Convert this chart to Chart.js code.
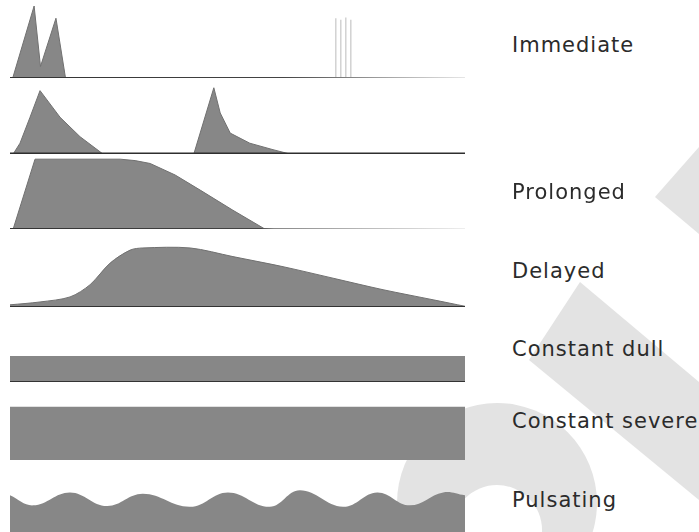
<!DOCTYPE html>
<html>
<head>
<meta charset="utf-8">
<script src="https://cdn.jsdelivr.net/npm/chart.js@4.4.1/dist/chart.umd.min.js"></script>
<style>
  html, body { margin: 0; padding: 0; background: #fff; }
  body { width: 699px; height: 532px; overflow: hidden; position: relative; }
  #mark { position: absolute; left: 0; top: 0; }
  canvas { position: absolute; }
  .lbl { position: absolute; font-family: "DejaVu Sans", sans-serif; font-size: 21px; line-height: 21px; color: #2b2b2b; white-space: nowrap; letter-spacing: 1px; }
</style>
</head>
<body>
<svg id="mark" width="699" height="532">
  <polygon points="655,197 699,147 699,234" fill="#e3e3e3"/>
  <polygon points="580,282 529,360 699,500 699,382" fill="#e3e3e3"/>
  <circle cx="497" cy="503" r="100" fill="#e3e3e3"/>
  <circle cx="497" cy="530" r="45" fill="#fff"/>
</svg>

<script>
// pain pattern profiles: time 0-100 across the row, level in common intensity units

const rowLabels = ["Immediate", "", "Prolonged", "Delayed", "Constant dull", "Constant severe", "Pulsating"];

// Immediate
const immediateTime  = [0, 0.6, 5.3, 6.7, 10.1, 12.2, 100];
const immediateLevel = [0, 0, 100, 16, 83, 0, 0];
// faint flash lines later in the row
const flashTime  = [71.6, 72.7, 73.8, 74.9];
const flashLevel = [83, 81, 84, 81];

// second row (no label)
const recurTime  = [0, 0.7, 2.2, 4.4, 6.6, 11.0, 15.4, 19.8, 20.4, 40.4, 44.8, 46.2, 48.4, 52.7, 57.8, 61.5, 100];
const recurLevel = [0, 0, 15, 51, 88, 51, 24, 3, 0, 0, 92, 57, 29, 15, 6, 0, 0];

// Prolonged
const prolongedTime  = [0, 0.7, 5.5, 24.2, 27.5, 30.8, 36.3, 41.8, 49.0, 56.0, 100];
const prolongedLevel = [0, 0, 97, 97, 95, 91, 75, 54, 26, 0, 0];

// Delayed
const delayedTime  = [0, 6.6, 13.2, 17.6, 22.0, 26.4, 29.2, 39.6, 49.0, 60.0, 71.0, 82.0, 93.0, 100];
const delayedLevel = [3, 7, 14, 31, 61, 79, 82, 82, 70, 56, 40, 24, 10, 1];

// Constant dull / Constant severe
const dullTime   = [0, 100];
const dullLevel  = [36, 36];
const severeTime  = [0, 100];
const severeLevel = [74, 74];

// Pulsating
const pulseTime  = [0, 5.1, 13.2, 21.3, 29.2, 39.6, 47.9, 57.1, 63.7, 73.2, 80.7, 87.9, 95.2, 100];
const pulseLevel = [51, 37, 55, 36, 53, 35, 55, 35, 58, 35, 55, 37, 55, 51];

// layout
const PX_PER_UNIT = 0.72;
const LEFT = 10, WIDTH = 455, PAD = 3;
const FILL = "#878787";
const EDGE = "#707070";

function pts(xs, ys) {
    return xs.map((x, i) => ({ x: x, y: ys[i] }));
}

// vertical strokes with gaps between them
function strokes(xs, ys) {
    const out = [];
    xs.forEach((x, i) => {
        if (i > 0) out.push({ x: x - 0.5, y: null });
        if (i % 2 == 0) { out.push({ x: x, y: 0 }); out.push({ x: x, y: ys[i] }); }
        else { out.push({ x: x, y: ys[i] }); out.push({ x: x, y: 0 }); }
    });
    return out;
}

function fadeLine(stops) {
    return function (ctx) {
        const chart = ctx.chart;
        const area = chart.chartArea;
        if (!area) return stops[0][1];
        const g = chart.ctx.createLinearGradient(area.left, 0, area.right, 0);
        stops.forEach(s => g.addColorStop(s[0], s[1]));
        return g;
    };
}

const rows = [
    { base: 78, height: 74, data: pts(immediateTime, immediateLevel), tension: 0,
      axis: { width: 2, color: fadeLine([[0, "#333"], [0.6, "#444"], [0.8, "#999"], [1, "#e6e6e6"]]) },
      extra: { data: strokes(flashTime, flashLevel), color: "#d2d2d2", width: 1.5 } },
    { base: 154, height: 68, data: pts(recurTime, recurLevel), tension: 0,
      axis: { width: 3, color: "#2e2e2e" } },
    { base: 229, height: 72, data: pts(prolongedTime, prolongedLevel), tension: 0,
      axis: { width: 2, color: fadeLine([[0, "#333"], [0.55, "#444"], [0.58, "#888"], [1, "#eeeeee"]]) } },
    { base: 307, height: 62, data: pts(delayedTime, delayedLevel), tension: 0.3,
      axis: { width: 2, color: "#333" } },
    { base: 382, height: 28, data: pts(dullTime, dullLevel), tension: 0, edge: 0,
      axis: { width: 2, color: "#333" } },
    { base: 460, height: 55, data: pts(severeTime, severeLevel), tension: 0, edge: 0 },
    { base: 532, height: 44, data: pts(pulseTime, pulseLevel), tension: 0.4, edge: 0 }
];

const labelTops = [35, null, 182, 261, 339, 411, 490];

rows.forEach((row, i) => {
    const cv = document.createElement("canvas");
    cv.width = WIDTH + 2 * PAD;
    cv.height = row.height + 2 * PAD;
    cv.style.left = (LEFT - PAD) + "px";
    cv.style.top = (row.base - row.height - PAD) + "px";
    document.body.appendChild(cv);

    const datasets = [];
    if (row.axis) {
        datasets.push({
            data: [{ x: 0, y: 0 }, { x: 100, y: 0 }],
            borderColor: row.axis.color,
            borderWidth: row.axis.width,
            fill: false,
            pointRadius: 0
        });
    }
    if (row.extra) {
        datasets.push({
            data: row.extra.data,
            borderColor: row.extra.color,
            borderWidth: row.extra.width,
            fill: false,
            pointRadius: 0,
            spanGaps: false
        });
    }
    datasets.push({
        data: row.data,
        backgroundColor: FILL,
        borderColor: EDGE,
        borderWidth: row.edge === 0 ? 0 : 1,
        fill: "origin",
        pointRadius: 0,
        tension: row.tension
    });

    new Chart(cv, {
        type: "line",
        data: { datasets: datasets },
        options: {
            responsive: false,
            animation: false,
            layout: { padding: PAD },
            plugins: { legend: { display: false }, tooltip: { enabled: false } },
            scales: {
                x: { type: "linear", min: 0, max: 100, display: false },
                y: { min: 0, max: row.height / PX_PER_UNIT, display: false }
            }
        }
    });

    if (rowLabels[i]) {
        const d = document.createElement("div");
        d.className = "lbl";
        d.textContent = rowLabels[i];
        d.style.left = "512px";
        d.style.top = labelTops[i] + "px";
        document.body.appendChild(d);
    }
});
</script>
</body>
</html>
